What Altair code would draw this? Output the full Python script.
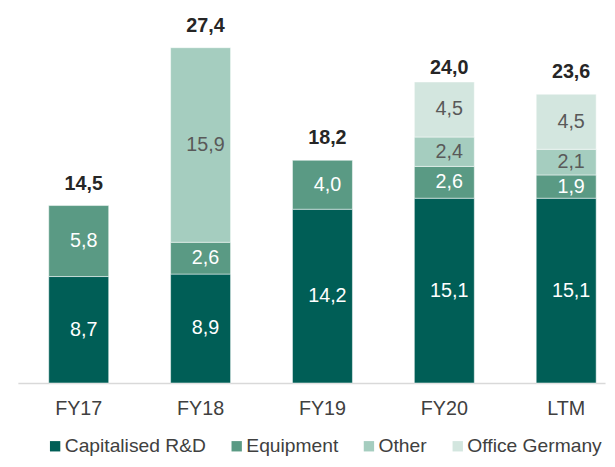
import altair as alt
import pandas as pd

periods = ["FY17", "FY18", "FY19", "FY20", "LTM"]
series = ["Capitalised R&D", "Equipment", "Other", "Office Germany"]
capitalised = [8.7, 8.9, 14.2, 15.1, 15.1]
equipment = [5.8, 2.6, 4.0, 2.6, 1.9]
other = [0.0, 15.9, 0.0, 2.4, 2.1]
office = [0.0, 0.0, 0.0, 4.5, 4.5]
totals = [14.5, 27.4, 18.2, 24.0, 23.6]

colors = ["#005E56", "#5A9A84", "#A5CDBF", "#D3E6DF"]
label_colors = ["#FFFFFF", "#FFFFFF", "#595959", "#595959"]

rows = []
for i, p in enumerate(periods):
    base = 0.0
    for k, vals in enumerate([capitalised, equipment, other, office]):
        v = vals[i]
        if v > 0:
            rows.append({
                "period": p, "series": series[k], "order": k,
                "start": base, "end": base + v, "mid": base + v / 2,
                "label": f"{v:.1f}".replace(".", ","),
                "lblcolor": label_colors[k],
            })
        base += v
df = pd.DataFrame(rows)

tot = pd.DataFrame({
    "period": periods, "total": totals,
    "label": [f"{t:.1f}".replace(".", ",") for t in totals],
})

FONT = "Liberation Sans"

xenc = alt.X("period:N", sort=periods, title=None,
             scale=alt.Scale(paddingInner=0.508, paddingOuter=0.163, align=0.777),
             axis=alt.Axis(labelAngle=0, ticks=False, domainColor="#D9D9D9",
                           domainWidth=1.5, labelFontSize=20, labelColor="#404040",
                           labelFont=FONT, labelPadding=16))
yscale = alt.Scale(domain=[0, 30], nice=False)

bars = alt.Chart(df).mark_bar(stroke="white", strokeWidth=0.5).encode(
    x=xenc,
    y=alt.Y("start:Q", scale=yscale, axis=None),
    y2="end:Q",
    color=alt.Color("series:N", sort=series,
                    scale=alt.Scale(domain=series, range=colors),
                    legend=alt.Legend(orient="none", direction="horizontal",
                                      legendX=28, legendY=426, title=None,
                                      symbolType="square", symbolSize=110,
                                      symbolStrokeWidth=0,
                                      labelFontSize=19.5, labelFont=FONT,
                                      labelColor="#404040", labelOffset=0,
                                      columnPadding=21, columns=4)),
    order=alt.Order("order:Q"),
)

seg_labels = alt.Chart(df).mark_text(fontSize=20, font=FONT, baseline="middle",
                                     align="center", dx=5).encode(
    x=alt.X("period:N", sort=periods),
    y=alt.Y("mid:Q", scale=yscale),
    text="label:N",
    color=alt.Color("lblcolor:N", scale=None),
)

tot_labels = alt.Chart(tot).mark_text(fontSize=20, font=FONT, fontWeight="bold",
                                      baseline="alphabetic", align="center",
                                      dx=5, dy=-16, color="#262626").encode(
    x=alt.X("period:N", sort=periods),
    y=alt.Y("total:Q", scale=yscale),
    text="label:N",
)

chart = alt.layer(bars, seg_labels, tot_labels).properties(
    width=595, height=372,
    padding={"left": 10, "top": 5, "right": 2, "bottom": 72},
    autosize=alt.AutoSizeParams(type="none"),
).configure_view(stroke=None)

chart.save("out.html", embed_options={"renderer": "svg", "actions": False})
